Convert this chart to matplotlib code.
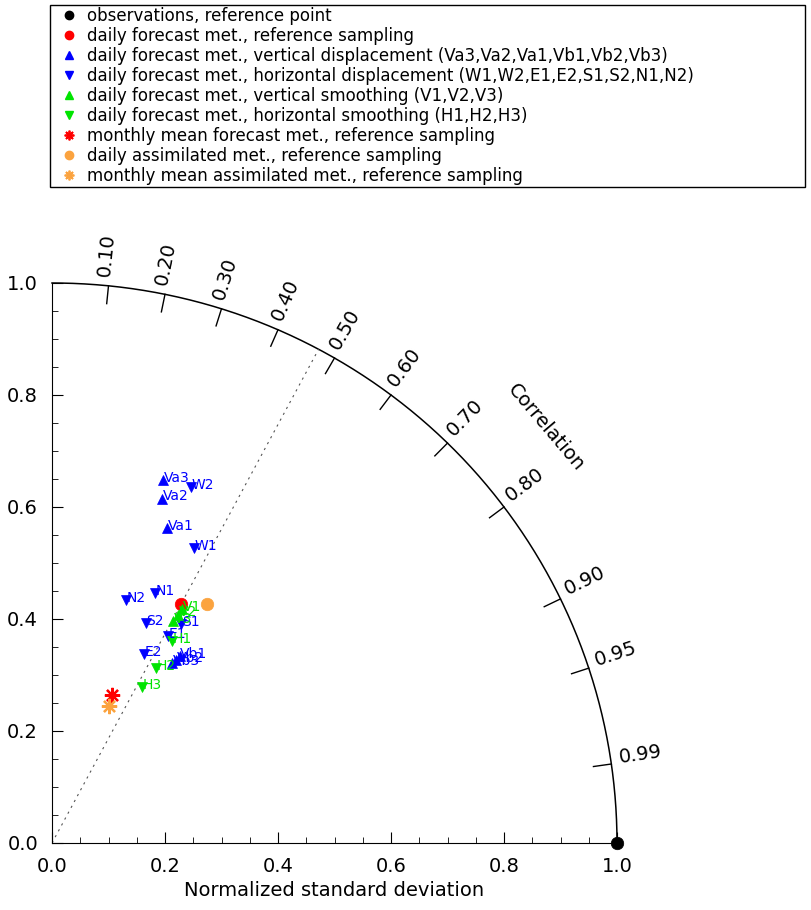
import numpy as np
import matplotlib.pyplot as plt
from matplotlib.lines import Line2D

# normalized std dev (x) and its orthogonal part (y)
obs_x, obs_y = [1.0], [0.0]
ref_x, ref_y = [0.228], [0.426]

va_names = ["Va3", "Va2", "Va1", "Vb1", "Vb2", "Vb3"]
va_x = [0.196, 0.195, 0.204, 0.226, 0.220, 0.212]
va_y = [0.648, 0.615, 0.562, 0.334, 0.326, 0.322]

hd_names = ["W1", "W2", "E1", "E2", "S1", "S2", "N1", "N2"]
hd_x = [0.251, 0.246, 0.206, 0.163, 0.229, 0.166, 0.182, 0.131]
hd_y = [0.527, 0.635, 0.370, 0.337, 0.391, 0.393, 0.446, 0.434]

vs_names = ["V1", "V2", "V3"]
vs_x = [0.230, 0.223, 0.214]
vs_y = [0.418, 0.408, 0.396]

hs_names = ["H1", "H2", "H3"]
hs_x = [0.212, 0.184, 0.159]
hs_y = [0.360, 0.313, 0.279]

mm_fc_x, mm_fc_y = [0.106], [0.264]
as_x, as_y = [0.275], [0.426]
mm_as_x, mm_as_y = [0.101], [0.244]

corr_ticks = [0.1, 0.2, 0.3, 0.4, 0.5, 0.6, 0.7, 0.8, 0.9, 0.95, 0.99]

labels = [
	"observations, reference point",
	"daily forecast met., reference sampling",
	"daily forecast met., vertical displacement (Va3,Va2,Va1,Vb1,Vb2,Vb3)",
	"daily forecast met., horizontal displacement (W1,W2,E1,E2,S1,S2,N1,N2)",
	"daily forecast met., vertical smoothing (V1,V2,V3)",
	"daily forecast met., horizontal smoothing (H1,H2,H3)",
	"monthly mean forecast met., reference sampling",
	"daily assimilated met., reference sampling",
	"monthly mean assimilated met., reference sampling",
]

BLUE = "#0000ff"
GREEN = "#00e400"
RED = "#ff0000"
ORANGE = "#fba33f"
STAR = (8, 2, 0)

fig = plt.figure(figsize=(8.11, 9.10), dpi=100)
ax = fig.add_axes([52 / 811, 67 / 910, 565 / 811, 560 / 910])

# outer arc (std = 1)
t = np.linspace(0, np.pi / 2, 300)
ax.plot(np.cos(t), np.sin(t), color="k", lw=1.1, clip_on=False)

# correlation ticks and labels
for c in corr_ticks:
	a = np.arccos(c)
	ax.plot([np.cos(a), 0.968 * np.cos(a)], [np.sin(a), 0.968 * np.sin(a)],
		color="k", lw=1, clip_on=False)
	ax.text(1.015 * np.cos(a), 1.015 * np.sin(a), "%.2f" % c, rotation=np.degrees(a),
		rotation_mode="anchor", ha="left", va="baseline", fontsize=14, clip_on=False)

ang = np.radians(40.3)
ax.text(1.147 * np.cos(ang), 1.147 * np.sin(ang), "Correlation", rotation=np.degrees(ang) - 90,
	rotation_mode="anchor", ha="center", va="center", fontsize=14)

# line through the reference sampling point
a_ref = np.arctan2(ref_y[0], ref_x[0])
ax.plot([0, np.cos(a_ref)], [0, np.sin(a_ref)], color="#555555", lw=0.8,
	linestyle=(0, (2, 4)))

def	points(x, y, marker, color, size, names=None):
	ax.plot(x, y, linestyle="none", marker=marker, color=color, markersize=size,
		markeredgewidth=1.6 if marker == STAR else 0.5, clip_on=False)
	if names:
		for n, px, py in zip(names, x, y):
			ax.annotate(n, (px, py), xytext=(0.5, -3.5), textcoords="offset points",
				ha="left", va="bottom", color=color, fontsize=10)

points(obs_x, obs_y, "o", "k", 9)
points(ref_x, ref_y, "o", RED, 9)
points(va_x, va_y, "^", BLUE, 6.5, va_names)
points(hd_x, hd_y, "v", BLUE, 6.5, hd_names)
points(vs_x, vs_y, "^", GREEN, 6.5, vs_names)
points(hs_x, hs_y, "v", GREEN, 6.5, hs_names)
points(mm_fc_x, mm_fc_y, STAR, RED, 11)
points(as_x, as_y, "o", ORANGE, 9)
points(mm_as_x, mm_as_y, STAR, ORANGE, 11)

ax.set_xlim(0, 1)
ax.set_ylim(0, 1)
ax.spines["top"].set_visible(False)
ax.spines["right"].set_visible(False)
ax.set_xticks(np.arange(0, 1.01, 0.2))
ax.set_yticks(np.arange(0, 1.01, 0.2))
ax.set_xticks(np.arange(0, 1.01, 0.05), minor=True)
ax.set_yticks(np.arange(0, 1.01, 0.05), minor=True)
ax.tick_params(which="both", direction="in", labelsize=14)
ax.tick_params(which="major", length=8, pad=10)
ax.tick_params(which="minor", length=4)
ax.xaxis.set_major_formatter(lambda v, p: "%.1f" % v)
ax.yaxis.set_major_formatter(lambda v, p: "%.1f" % v)
ax.set_xlabel("Normalized standard deviation", fontsize=14)

# legend
handles = [
	Line2D([], [], ls="none", marker="o", color="k", markersize=6),
	Line2D([], [], ls="none", marker="o", color=RED, markersize=6),
	Line2D([], [], ls="none", marker="^", color=BLUE, markersize=6),
	Line2D([], [], ls="none", marker="v", color=BLUE, markersize=6),
	Line2D([], [], ls="none", marker="^", color=GREEN, markersize=6),
	Line2D([], [], ls="none", marker="v", color=GREEN, markersize=6),
	Line2D([], [], ls="none", marker=STAR, color=RED, markersize=7, markeredgewidth=1.3),
	Line2D([], [], ls="none", marker="o", color=ORANGE, markersize=6),
	Line2D([], [], ls="none", marker=STAR, color=ORANGE, markersize=7, markeredgewidth=1.3),
]
fig.legend(handles, labels, loc="upper left", mode="expand",
	bbox_to_anchor=(50 / 811, 0, 755 / 811, 1 - 5 / 910), borderaxespad=0,
	fancybox=False, edgecolor="k", framealpha=1, fontsize=12, handlelength=2,
	handletextpad=0.1, labelspacing=0.12, borderpad=0.12)

fig.savefig("out.png", dpi=100)
